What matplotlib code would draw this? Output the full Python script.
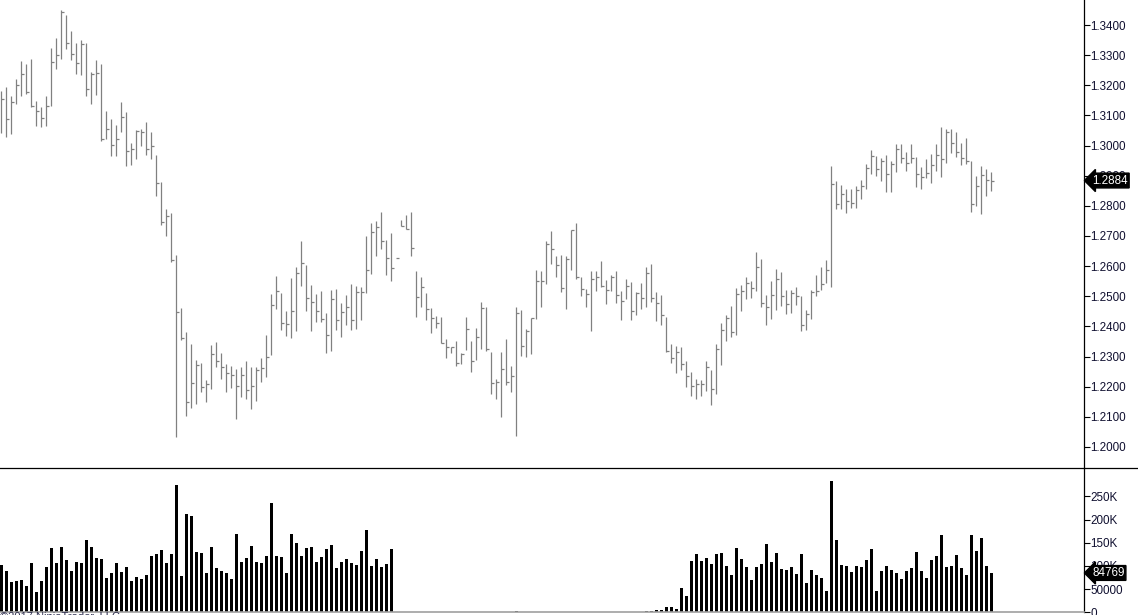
import numpy as np
import matplotlib
matplotlib.use('Agg')
import matplotlib.pyplot as plt
from matplotlib.lines import Line2D
import matplotlib.transforms as mtransforms

plt.rcParams['font.family'] = ['Liberation Sans', 'DejaVu Sans']

# daily HLC bars (no open tick drawn)
highs = [
    1.3182, 1.3195, 1.3164, 1.3221, 1.3281, 1.3271, 1.3287, 1.3148, 1.3128, 1.3164,
    1.3325, 1.3358, 1.3450, 1.3434, 1.3380, 1.3341, 1.3350, 1.3340, 1.3245, 1.3284,
    1.3272, 1.3115, 1.3089, 1.3068, 1.3145, 1.3111, 1.3008, 1.3052, 1.3056, 1.3078,
    1.3045, 1.2969, 1.2879, 1.2790, 1.2776, 1.2637, 1.2462, 1.2382, 1.2343, 1.2289,
    1.2280, 1.2221, 1.2339, 1.2349, 1.2313, 1.2276, 1.2270, 1.2260, 1.2265, 1.2286,
    1.2264, 1.2266, 1.2295, 1.2370, 1.2509, 1.2568, 1.2512, 1.2452, 1.2562, 1.2598,
    1.2684, 1.2604, 1.2538, 1.2507, 1.2519, 1.2446, 1.2522, 1.2525, 1.2479, 1.2504,
    1.2541, 1.2534, 1.2531, 1.2700, 1.2744, 1.2750, 1.2780, 1.2687, 1.2710, 1.2626,
    1.2753, 1.2770, 1.2780, 1.2584, 1.2564, 1.2511, 1.2461, 1.2434, 1.2432, 1.2358,
    1.2333, 1.2353, 1.2312, 1.2431, 1.2352, 1.2395, 1.2481, 1.2464, 1.2315, 1.2225,
    1.2315, 1.2358, 1.2269, 1.2464, 1.2454, 1.2391, 1.2428, 1.2588, 1.2585, 1.2683,
    1.2717, 1.2634, 1.2637, 1.2634, 1.2720, 1.2743, 1.2563, 1.2524, 1.2584, 1.2584,
    1.2617, 1.2554, 1.2570, 1.2584, 1.2517, 1.2557, 1.2547, 1.2514, 1.2544, 1.2597,
    1.2607, 1.2514, 1.2504, 1.2431, 1.2342, 1.2335, 1.2332, 1.2285, 1.2249, 1.2226,
    1.2222, 1.2285, 1.2255, 1.2342, 1.2411, 1.2438, 1.2468, 1.2527, 1.2537, 1.2564,
    1.2551, 1.2647, 1.2624, 1.2504, 1.2551, 1.2591, 1.2580, 1.2521, 1.2521, 1.2531,
    1.2501, 1.2454, 1.2521, 1.2571, 1.2597, 1.2620, 1.2932, 1.2883, 1.2869, 1.2856,
    1.2856, 1.2866, 1.2886, 1.2939, 1.2985, 1.2965, 1.2959, 1.2969, 1.2949, 1.3005,
    1.3005, 1.2979, 1.3005, 1.2962, 1.2929, 1.2955, 1.2972, 1.3005, 1.3062, 1.3055,
    1.3055, 1.3045, 1.3009, 1.3025, 1.2949, 1.2899, 1.2932, 1.2922, 1.2912,
]
lows = [
    1.3043, 1.3030, 1.3039, 1.3137, 1.3166, 1.3172, 1.3127, 1.3066, 1.3063, 1.3066,
    1.3132, 1.3255, 1.3287, 1.3321, 1.3284, 1.3238, 1.3235, 1.3166, 1.3139, 1.3169,
    1.3016, 1.3023, 1.2966, 1.2966, 1.3046, 1.2933, 1.2937, 1.2957, 1.3000, 1.2970,
    1.2954, 1.2834, 1.2738, 1.2701, 1.2615, 1.2034, 1.2355, 1.2104, 1.2130, 1.2144,
    1.2181, 1.2150, 1.2193, 1.2266, 1.2224, 1.2183, 1.2197, 1.2094, 1.2167, 1.2160,
    1.2127, 1.2154, 1.2217, 1.2232, 1.2306, 1.2459, 1.2389, 1.2369, 1.2363, 1.2386,
    1.2533, 1.2452, 1.2386, 1.2416, 1.2416, 1.2311, 1.2319, 1.2389, 1.2366, 1.2406,
    1.2389, 1.2392, 1.2422, 1.2512, 1.2575, 1.2635, 1.2658, 1.2572, 1.2552, 1.2626,
    1.2733, 1.2722, 1.2635, 1.2432, 1.2465, 1.2422, 1.2379, 1.2396, 1.2344, 1.2296,
    1.2311, 1.2270, 1.2276, 1.2323, 1.2250, 1.2287, 1.2326, 1.2320, 1.2177, 1.2160,
    1.2101, 1.2204, 1.2181, 1.2037, 1.2303, 1.2299, 1.2309, 1.2426, 1.2465, 1.2540,
    1.2608, 1.2565, 1.2515, 1.2459, 1.2586, 1.2556, 1.2502, 1.2465, 1.2386, 1.2518,
    1.2532, 1.2475, 1.2518, 1.2479, 1.2422, 1.2492, 1.2422, 1.2439, 1.2459, 1.2464,
    1.2482, 1.2419, 1.2406, 1.2316, 1.2280, 1.2247, 1.2257, 1.2200, 1.2170, 1.2160,
    1.2170, 1.2187, 1.2140, 1.2177, 1.2272, 1.2353, 1.2366, 1.2373, 1.2452, 1.2492,
    1.2495, 1.2519, 1.2466, 1.2403, 1.2426, 1.2456, 1.2469, 1.2442, 1.2446, 1.2472,
    1.2386, 1.2389, 1.2426, 1.2502, 1.2522, 1.2545, 1.2532, 1.2791, 1.2791, 1.2777,
    1.2794, 1.2794, 1.2824, 1.2857, 1.2907, 1.2900, 1.2884, 1.2847, 1.2847, 1.2913,
    1.2943, 1.2917, 1.2943, 1.2864, 1.2857, 1.2894, 1.2877, 1.2917, 1.2897, 1.2943,
    1.2976, 1.2963, 1.2937, 1.2939, 1.2781, 1.2801, 1.2774, 1.2834, 1.2850,
]
closes = [
    1.3153, 1.3088, 1.3143, 1.3200, 1.3237, 1.3177, 1.3132, 1.3114, 1.3091, 1.3130,
    1.3277, 1.3299, 1.3443, 1.3339, 1.3304, 1.3273, 1.3336, 1.3187, 1.3237, 1.3241,
    1.3023, 1.3055, 1.3001, 1.3021, 1.3095, 1.2982, 1.2987, 1.3048, 1.3044, 1.2987,
    1.2999, 1.2876, 1.2745, 1.2765, 1.2619, 1.2447, 1.2363, 1.2148, 1.2211, 1.2272,
    1.2198, 1.2209, 1.2308, 1.2285, 1.2264, 1.2245, 1.2238, 1.2201, 1.2238, 1.2189,
    1.2201, 1.2256, 1.2261, 1.2298, 1.2471, 1.2517, 1.2411, 1.2408, 1.2451, 1.2577,
    1.2610, 1.2494, 1.2481, 1.2451, 1.2425, 1.2371, 1.2491, 1.2421, 1.2448, 1.2464,
    1.2421, 1.2513, 1.2514, 1.2587, 1.2713, 1.2730, 1.2683, 1.2627, 1.2593, 1.2626,
    1.2733, 1.2722, 1.2659, 1.2496, 1.2530, 1.2458, 1.2428, 1.2410, 1.2344, 1.2332,
    1.2331, 1.2279, 1.2308, 1.2390, 1.2285, 1.2365, 1.2461, 1.2325, 1.2212, 1.2216,
    1.2259, 1.2216, 1.2235, 1.2444, 1.2335, 1.2386, 1.2428, 1.2551, 1.2551, 1.2673,
    1.2657, 1.2604, 1.2526, 1.2624, 1.2720, 1.2563, 1.2524, 1.2507, 1.2557, 1.2564,
    1.2533, 1.2521, 1.2564, 1.2504, 1.2483, 1.2534, 1.2451, 1.2511, 1.2494, 1.2577,
    1.2494, 1.2478, 1.2438, 1.2318, 1.2295, 1.2315, 1.2274, 1.2234, 1.2201, 1.2208,
    1.2208, 1.2264, 1.2191, 1.2324, 1.2389, 1.2427, 1.2382, 1.2508, 1.2518, 1.2544,
    1.2527, 1.2597, 1.2478, 1.2464, 1.2504, 1.2557, 1.2501, 1.2474, 1.2511, 1.2501,
    1.2405, 1.2441, 1.2514, 1.2518, 1.2542, 1.2587, 1.2873, 1.2806, 1.2839, 1.2816,
    1.2810, 1.2853, 1.2866, 1.2926, 1.2965, 1.2922, 1.2949, 1.2906, 1.2939, 1.2989,
    1.2959, 1.2942, 1.2959, 1.2906, 1.2896, 1.2909, 1.2936, 1.2969, 1.2955, 1.3045,
    1.3009, 1.2979, 1.2959, 1.2949, 1.2806, 1.2866, 1.2902, 1.2886, 1.2884,
]
# volume in thousands (the feed has a hole in the middle)
volume_k = [
    102, 89, 65, 67, 70, 57, 106, 44, 67, 98,
    139, 106, 141, 113, 89, 108, 106, 156, 141, 117,
    115, 74, 85, 106, 87, 98, 67, 76, 72, 80,
    121, 126, 134, 106, 126, 274, 78, 212, 207, 130,
    128, 85, 141, 95, 89, 85, 72, 169, 108, 117,
    143, 108, 106, 121, 236, 121, 119, 85, 169, 149,
    121, 139, 141, 108, 119, 136, 145, 95, 108, 115,
    106, 102, 132, 177, 100, 115, 98, 104, 136, 0,
    0, 0, 0, 0, 0, 0, 0, 0, 0, 0,
    0, 0, 0, 0, 0, 0, 0, 0, 0, 0,
    0, 0, 0, 3, 0, 0, 0, 0, 0, 0,
    0, 0, 0, 0, 0, 0, 0, 0, 0, 0,
    0, 0, 0, 0, 0, 0, 0, 0, 0, 3,
    3, 5, 5, 11, 11, 7, 52, 35, 111, 126,
    111, 117, 104, 126, 128, 100, 80, 139, 115, 98,
    70, 98, 104, 147, 108, 128, 93, 91, 98, 83,
    126, 63, 91, 80, 74, 46, 283, 156, 102, 100,
    87, 100, 98, 113, 136, 46, 89, 100, 91, 85,
    72, 89, 95, 130, 89, 74, 113, 121, 167, 98,
    100, 123, 95, 80, 167, 132, 160, 100, 84.769,
]
price_ticks = [1.20, 1.21, 1.22, 1.23, 1.24, 1.25, 1.26, 1.27, 1.28, 1.29, 1.30, 1.31, 1.32, 1.33, 1.34]
vol_ticks = [0, 50000, 100000, 150000, 200000, 250000]
vol_labels = ['0', '50000', '100K', '150K', '200K', '250K']
last_price_label = '1.2884'
last_vol_label = '84769'

W, H = 1138, 615
fig = plt.figure(figsize=(W / 100, H / 100), dpi=100)
fig.patch.set_facecolor('white')

axis_x = 1084
split_y = 468
vol_bottom = 612.3

ax = fig.add_axes([0, (H - split_y) / H, axis_x / W, split_y / H])
axv = fig.add_axes([0, (H - vol_bottom) / H, axis_x / W, (vol_bottom - split_y) / H])

x = np.arange(len(closes))
hi = np.array(highs)
lo = np.array(lows)
cl = np.array(closes)
vol = np.array(volume_k) * 1000

bar_col = '#808080'
ax.vlines(x, lo, hi, color=bar_col, lw=0.9)
ax.hlines(cl, x, x + 0.5, color=bar_col, lw=0.9)

axv.bar(x + 0.1, vol, width=0.6, color='black', lw=0)

xlim = (-0.2, -0.2 + axis_x / 5)
for a in (ax, axv):
    a.set_xlim(*xlim)
    a.set_xticks([])
    a.yaxis.tick_right()
    a.tick_params(axis='y', direction='out', length=4, width=0.8, color='black',
                  labelsize=8.4, pad=0.8, labelcolor='#101030')
    for s in ('top', 'left'):
        a.spines[s].set_visible(False)
    a.spines['right'].set_color('black')
    a.spines['right'].set_linewidth(0.9)
    a.set_facecolor('none')

ax.set_ylim(1.34 - 443 / 3014, 1.34 + 25 / 3014)
ax.set_yticks(price_ticks)
ax.set_yticklabels(['%.4f' % p for p in price_ticks])
ax.spines['bottom'].set_visible(False)

axv.set_ylim(0, (vol_bottom - split_y) / 0.464 * 1000)
axv.set_yticks(vol_ticks)
axv.set_yticklabels(vol_labels)
axv.spines['bottom'].set_color('#a0a0a0')
axv.spines['bottom'].set_linewidth(1.2)

# panel divider runs across the whole width
fig.add_artist(Line2D([0, 1], [(H - split_y) / H] * 2, color='black', lw=0.9))

# last value markers on the axis
tr = mtransforms.blended_transform_factory(ax.transAxes, ax.transData)
ax.text(1.0075, cl[-1], last_price_label, transform=tr, color='white', fontsize=8.4,
        va='center', ha='left', zorder=10, clip_on=False,
        bbox=dict(boxstyle='larrow,pad=0.12', fc='black', ec='black'))
trv = mtransforms.blended_transform_factory(axv.transAxes, axv.transData)
axv.text(1.0075, vol[-1], last_vol_label, transform=trv, color='white', fontsize=8.4,
         va='center', ha='left', zorder=10, clip_on=False,
         bbox=dict(boxstyle='larrow,pad=0.12', fc='black', ec='black'))

fig.text(0.0, 1 - 612 / H, '\u00a92017 NinjaTrader, LLC', fontsize=8, color='#303050',
         va='top', ha='left')

fig.savefig('out.png', dpi=100)
